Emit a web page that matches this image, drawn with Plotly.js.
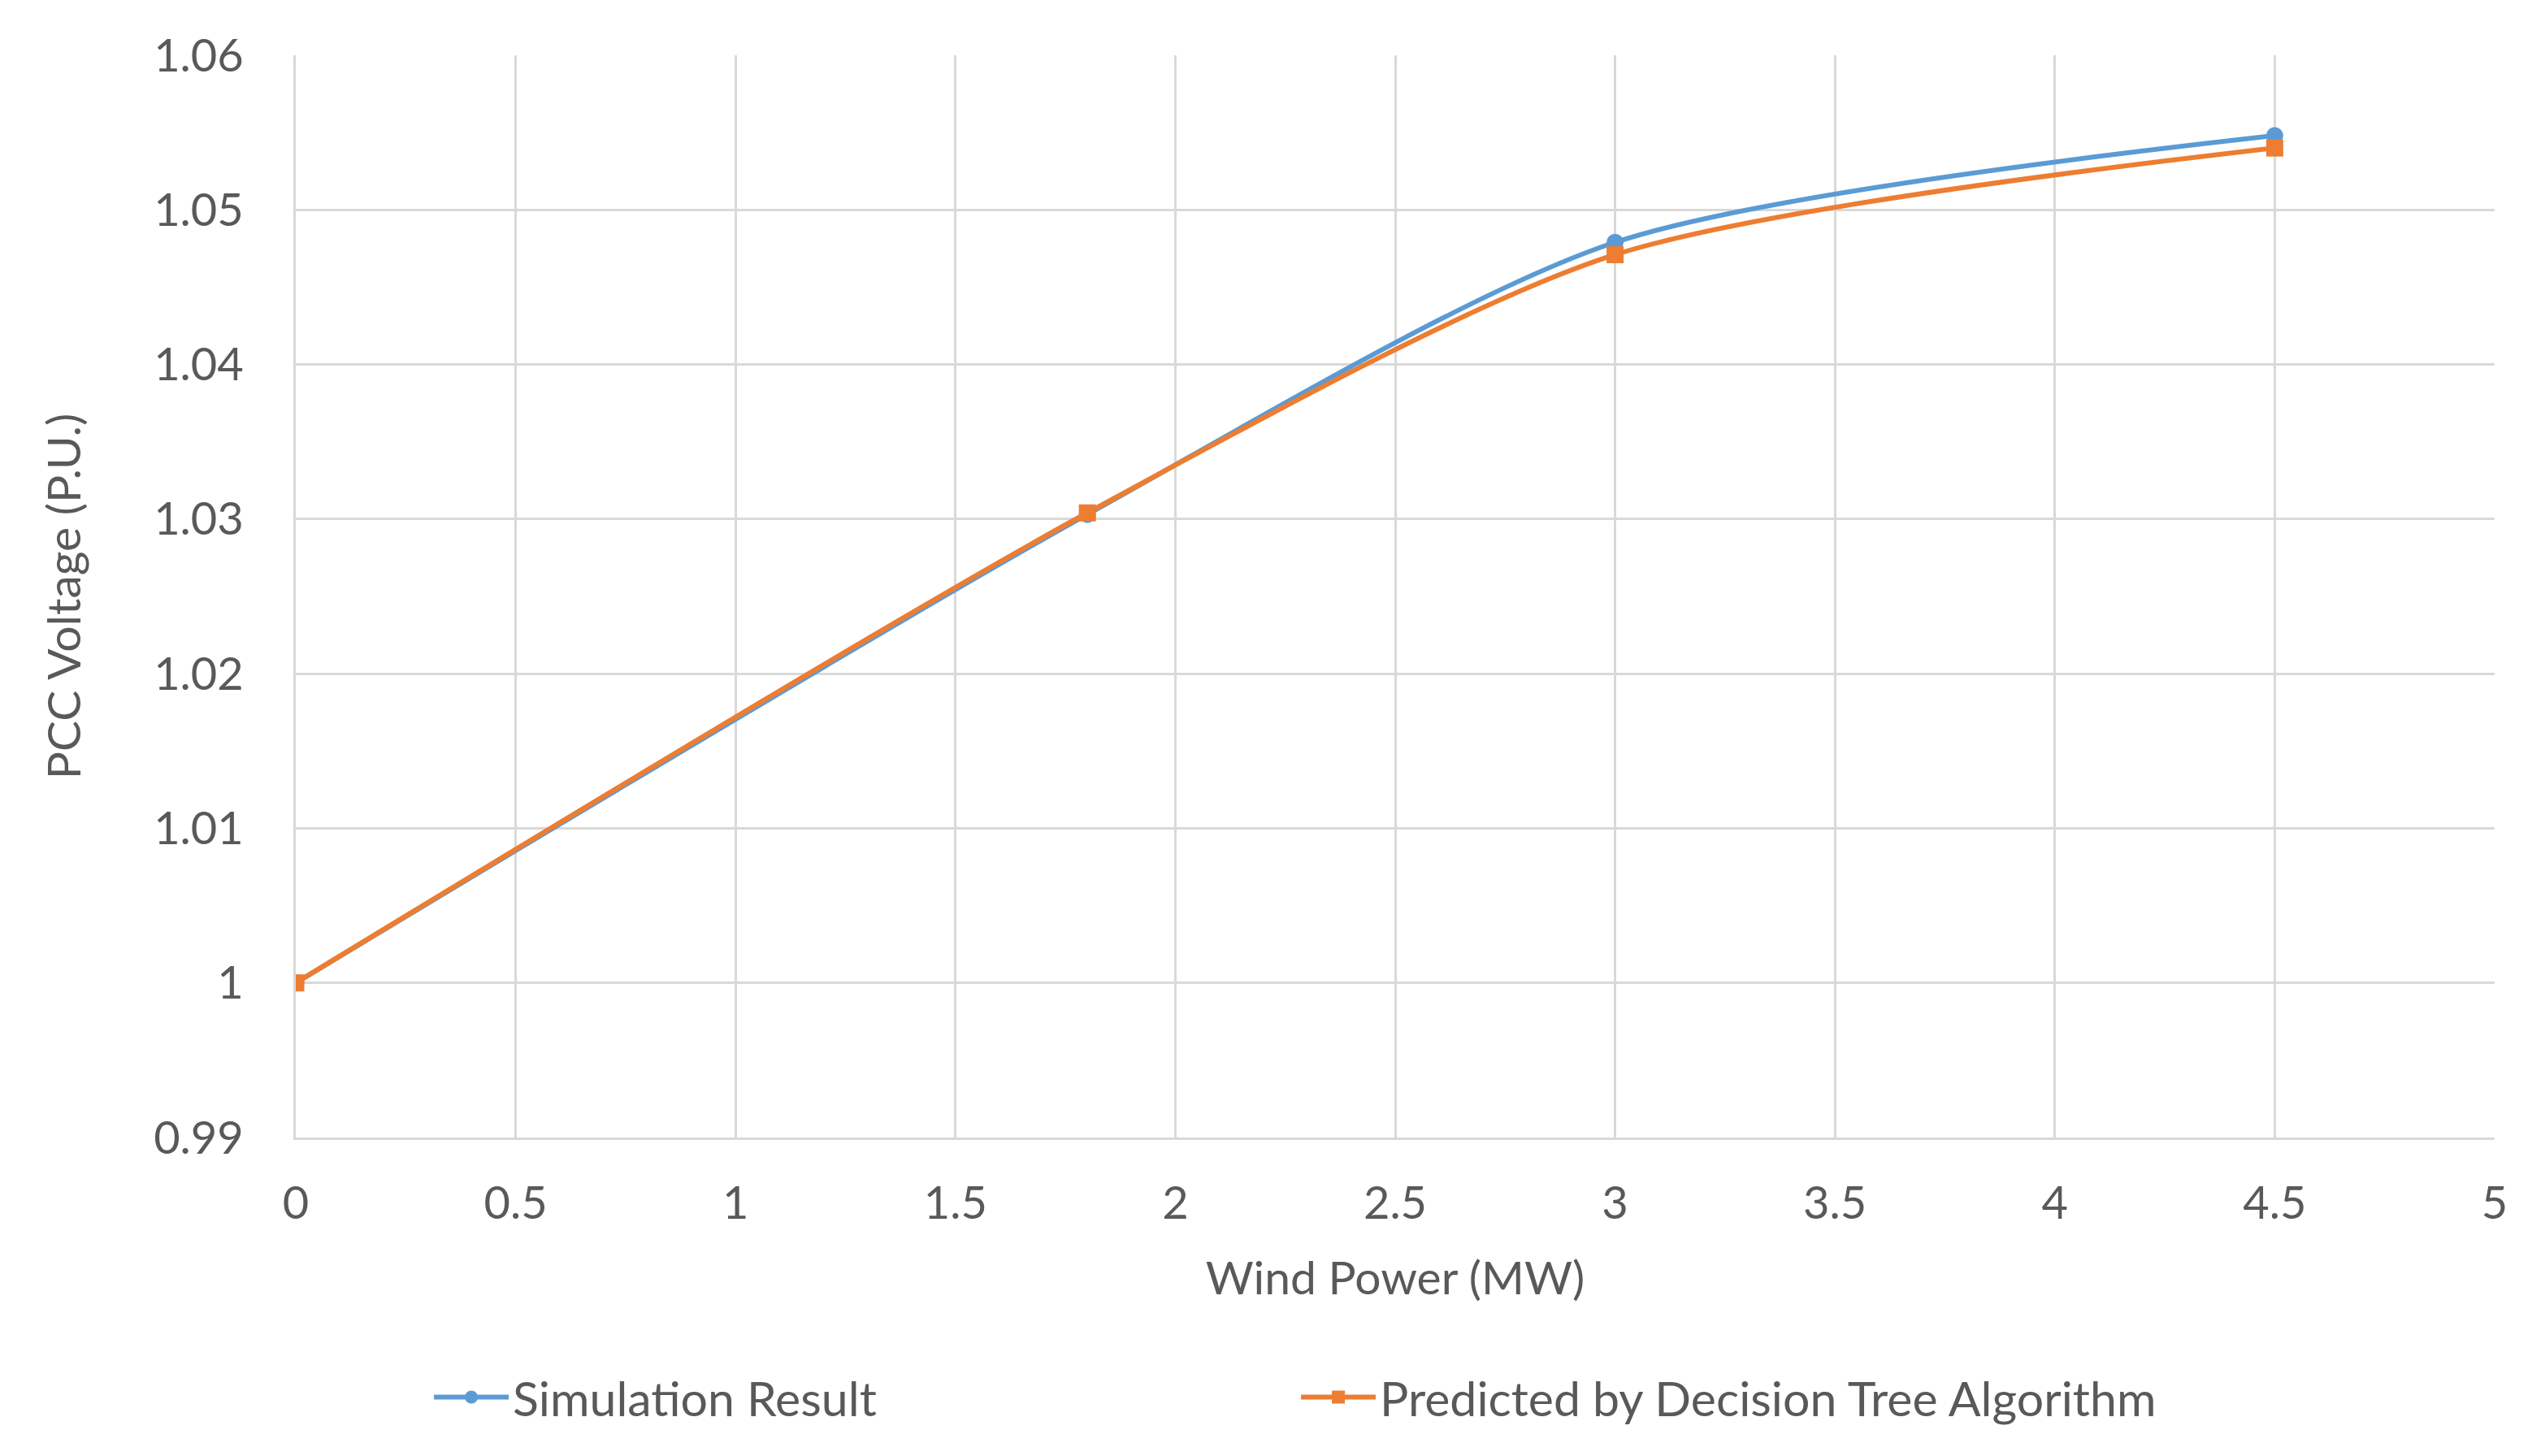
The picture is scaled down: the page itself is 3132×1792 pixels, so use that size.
<!DOCTYPE html>
<html>
<head>
<meta charset="utf-8">
<script src="https://cdn.plot.ly/plotly-3.0.1.min.js"></script>
<style>html,body{margin:0;padding:0;background:#fff;}#chart{width:3132px;height:1792px;}</style>
</head>
<body>
<div id="chart"></div>
<script>
const windPower = [0, 1.8, 3, 4.5];
const simulationResult = [1.0, 1.0303, 1.0479, 1.0548];
const predictedDT = [1.0, 1.0304, 1.0471, 1.0540];
const xTicks = [0, 0.5, 1, 1.5, 2, 2.5, 3, 3.5, 4, 4.5, 5];
const yTicks = [0.99, 1, 1.01, 1.02, 1.03, 1.04, 1.05, 1.06];
const yTickText = ['0.99', '1', '1.01', '1.02', '1.03', '1.04', '1.05', '1.06'];

const FONT = 'Lato, "Open Sans", sans-serif';
const traces = [
  {
    x: windPower, y: simulationResult, name: 'Simulation Result',
    type: 'scatter', mode: 'lines+markers',
    line: {color: '#5B9BD5', width: 6, shape: 'spline', smoothing: 0.75},
    marker: {symbol: 'circle', size: 21, color: '#5B9BD5'}
  },
  {
    x: windPower, y: predictedDT, name: 'Predicted by Decision Tree Algorithm',
    type: 'scatter', mode: 'lines+markers',
    line: {color: '#ED7D31', width: 6, shape: 'spline', smoothing: 0.75},
    marker: {symbol: 'square', size: 21, color: '#ED7D31'}
  }
];

const layout = {
  width: 3132, height: 1792,
  paper_bgcolor: '#ffffff', plot_bgcolor: '#ffffff',
  margin: {l: 364, r: 62, t: 68, b: 392},
  font: {family: FONT, color: '#595959', size: 56},
  showlegend: true,
  legend: {
    orientation: 'h', x: 0.061, xanchor: 'left', y: -0.24, yanchor: 'middle',
    font: {family: FONT, size: 59, color: '#595959'},
    entrywidth: 960, entrywidthmode: 'pixels', itemwidth: 92,
    bgcolor: 'rgba(0,0,0,0)'
  },
  xaxis: {
    range: [0, 5], tickvals: xTicks, ticktext: xTicks.map(String),
    showgrid: true, gridcolor: '#d9d9d9', gridwidth: 3,
    showline: true, linecolor: '#d9d9d9', linewidth: 3,
    zeroline: false, ticks: '', ticklabelstandoff: 30,
    tickfont: {family: FONT, size: 56, color: '#595959'},
    title: {text: 'Wind Power (MW)', font: {family: FONT, size: 57, color: '#595959'}, standoff: 42}
  },
  yaxis: {
    range: [0.99, 1.06], tickvals: yTicks, ticktext: yTickText,
    showgrid: true, gridcolor: '#d9d9d9', gridwidth: 3,
    showline: true, linecolor: '#d9d9d9', linewidth: 3,
    zeroline: false, ticks: '', ticklabelstandoff: 50,
    tickfont: {family: FONT, size: 56, color: '#595959'},
    title: {text: 'PCC Voltage (P.U.)', font: {family: FONT, size: 57, color: '#595959'}, standoff: 72}
  }
};

Plotly.newPlot('chart', traces, layout, {displayModeBar: false, staticPlot: true});
</script>
</body>
</html>
